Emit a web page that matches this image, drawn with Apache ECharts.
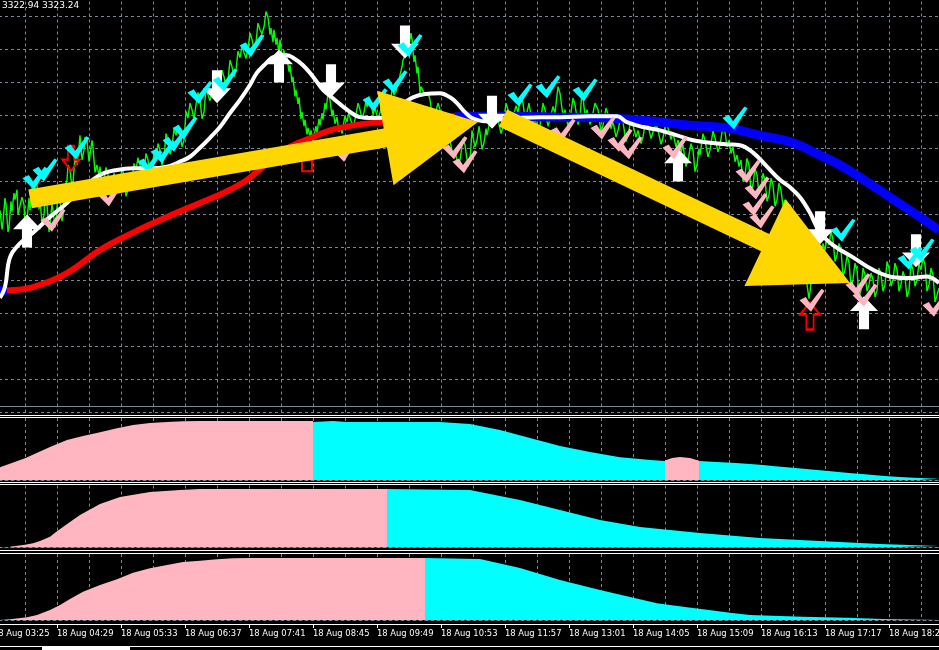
<!DOCTYPE html>
<html><head><meta charset="utf-8">
<script src="https://cdn.jsdelivr.net/npm/echarts@6/dist/echarts.min.js"></script>
<style>html,body{margin:0;padding:0;background:#000;overflow:hidden}#c{width:939px;height:650px}</style>
</head><body><div id="c"></div>
<script>
// x = minutes after 18 Aug 03:25 (M1 bars), y = price
const headerText = '3322.94 3323.24';
const priceData = [[7,3332.5],[9,3330.2],[10,3331.1],[12,3334.0],[13,3333.2],[15,3329.9],[16,3330.4],[18,3333.6],[19,3332.3],[21,3334.6],[22,3333.8],[24,3335.0],[25,3332.0],[27,3331.9],[29,3334.1],[31,3333.2],[32,3330.8],[34,3331.3],[36,3334.0],[37,3332.5],[39,3335.3],[41,3334.4],[43,3336.2],[44,3335.6],[46,3332.6],[47,3333.8],[49,3331.0],[51,3331.9],[52,3334.0],[54,3333.2],[56,3329.9],[57,3330.7],[59,3333.4],[60,3332.5],[62,3330.4],[63,3331.3],[65,3334.6],[67,3333.8],[69,3331.2],[70,3331.9],[72,3335.4],[74,3336.2],[75,3338.0],[77,3337.4],[79,3335.1],[80,3335.9],[82,3338.9],[84,3338.0],[86,3340.2],[87,3341.6],[89,3338.6],[91,3339.8],[92,3341.4],[94,3341.0],[96,3338.4],[97,3339.2],[99,3341.0],[100,3340.1],[102,3337.1],[104,3338.0],[106,3336.6],[107,3337.8],[109,3335.4],[111,3336.2],[113,3337.7],[115,3336.8],[117,3334.3],[119,3335.0],[121,3337.0],[123,3336.2],[125,3334.8],[127,3335.6],[129,3337.6],[131,3336.8],[133,3334.2],[135,3335.0],[137,3337.0],[139,3336.2],[141,3338.2],[143,3337.4],[145,3338.9],[147,3338.0],[149,3336.4],[151,3337.2],[153,3339.4],[155,3338.6],[157,3336.8],[159,3337.6],[161,3339.4],[163,3338.6],[165,3340.6],[167,3339.8],[169,3338.0],[171,3338.8],[173,3341.8],[175,3341.0],[177,3339.3],[179,3340.1],[181,3342.4],[183,3341.6],[185,3342.8],[187,3341.9],[189,3340.2],[191,3341.0],[193,3344.5],[195,3343.7],[197,3345.5],[199,3344.7],[201,3343.5],[203,3345.3],[205,3346.8],[207,3345.9],[209,3343.6],[211,3344.4],[213,3347.3],[215,3346.5],[217,3345.8],[219,3346.7],[221,3348.6],[223,3347.7],[225,3346.3],[227,3347.1],[229,3349.5],[231,3348.7],[233,3347.5],[235,3348.3],[237,3350.7],[239,3349.9],[241,3348.7],[243,3349.5],[245,3351.8],[247,3351.0],[249,3352.4],[251,3351.6],[253,3350.9],[255,3352.2],[257,3354.0],[259,3353.2],[261,3352.1],[263,3352.9],[265,3355.2],[267,3354.4],[269,3353.9],[271,3354.7],[273,3356.6],[275,3355.9],[277,3353.8],[278,3354.6],[280,3352.9],[281,3354.4],[283,3352.6],[284,3353.4],[286,3351.5],[287,3353.2],[289,3351.1],[291,3351.9],[293,3350.3],[294,3351.1],[296,3349.3],[297,3350.1],[299,3348.0],[300,3348.7],[302,3346.3],[303,3347.1],[305,3345.4],[306,3346.2],[308,3343.6],[309,3344.4],[311,3342.7],[312,3343.5],[314,3341.7],[315,3342.5],[317,3341.4],[318,3342.2],[320,3340.8],[321,3341.6],[323,3342.7],[324,3341.9],[326,3343.6],[327,3342.8],[329,3344.3],[330,3343.5],[332,3345.5],[333,3344.7],[335,3346.7],[337,3345.9],[339,3343.9],[340,3344.7],[342,3343.0],[344,3343.8],[346,3342.0],[347,3342.8],[349,3341.8],[350,3342.6],[352,3344.0],[354,3343.2],[356,3344.5],[357,3343.7],[360,3342.7],[362,3343.5],[365,3345.5],[367,3344.7],[369,3343.6],[371,3344.4],[373,3345.8],[374,3345.0],[376,3346.3],[378,3345.5],[380,3344.1],[382,3344.9],[385,3343.5],[387,3344.3],[390,3346.1],[392,3345.3],[395,3343.9],[397,3344.7],[399,3347.3],[401,3346.5],[403,3346.9],[404,3347.7],[406,3348.1],[407,3348.9],[409,3349.9],[410,3350.7],[412,3350.8],[413,3351.6],[415,3351.7],[416,3352.5],[418,3354.0],[419,3353.2],[421,3350.5],[422,3351.3],[424,3349.1],[425,3349.9],[427,3346.7],[428,3347.5],[430,3347.3],[432,3346.5],[435,3346.7],[437,3345.9],[440,3343.3],[442,3344.1],[445,3345.5],[447,3344.7],[450,3341.8],[452,3342.6],[455,3341.8],[457,3341.0],[460,3339.0],[462,3339.8],[465,3337.8],[467,3338.6],[470,3341.2],[472,3340.4],[475,3337.8],[477,3338.6],[479,3342.2],[480,3341.4],[482,3340.2],[484,3341.0],[486,3342.7],[487,3341.9],[489,3339.9],[491,3340.7],[493,3342.4],[494,3341.6],[497,3343.4],[500,3342.6],[503,3344.3],[505,3343.5],[508,3341.8],[510,3342.6],[513,3345.5],[515,3344.7],[518,3342.9],[520,3343.7],[523,3345.2],[525,3344.4],[528,3346.3],[530,3345.5],[532,3343.6],[534,3344.4],[536,3345.5],[537,3344.7],[540,3342.9],[542,3343.7],[545,3342.0],[547,3342.8],[550,3345.5],[552,3344.7],[555,3342.7],[557,3343.5],[560,3345.1],[562,3344.3],[565,3347.5],[567,3346.7],[570,3343.9],[572,3344.7],[575,3342.7],[577,3343.5],[580,3346.1],[582,3345.3],[585,3342.9],[587,3343.7],[589,3347.0],[590,3346.2],[592,3343.9],[594,3344.7],[597,3342.9],[599,3343.7],[602,3345.5],[605,3344.7],[608,3342.0],[610,3342.8],[613,3344.9],[615,3344.1],[618,3342.4],[620,3343.2],[623,3341.4],[625,3342.2],[628,3344.0],[630,3343.2],[633,3340.8],[635,3341.6],[638,3343.6],[640,3342.8],[643,3341.4],[645,3342.2],[648,3340.6],[650,3341.4],[653,3343.6],[655,3342.8],[658,3341.2],[660,3342.0],[663,3343.0],[665,3342.2],[668,3340.5],[670,3341.3],[673,3343.3],[675,3342.5],[678,3341.1],[680,3341.9],[683,3340.2],[685,3341.0],[688,3339.6],[690,3340.4],[693,3337.8],[695,3338.6],[698,3340.6],[700,3339.8],[702,3337.2],[704,3338.0],[706,3340.0],[707,3339.2],[710,3341.8],[712,3341.0],[715,3339.0],[717,3339.8],[720,3342.1],[722,3341.3],[725,3339.6],[727,3340.4],[730,3342.8],[732,3342.0],[734,3340.2],[736,3341.0],[738,3339.4],[740,3340.2],[742,3338.4],[744,3339.2],[746,3337.8],[748,3338.6],[750,3336.0],[752,3336.8],[754,3338.8],[756,3338.0],[758,3334.8],[760,3335.6],[762,3337.6],[764,3336.8],[766,3334.5],[768,3335.3],[770,3337.0],[772,3336.2],[774,3333.6],[776,3334.4],[778,3336.4],[780,3335.6],[782,3333.0],[784,3333.8],[786,3335.8],[788,3335.0],[790,3333.0],[792,3333.8],[795,3332.4],[797,3333.2],[800,3331.1],[802,3331.9],[805,3329.7],[807,3328.9],[809,3326.7],[811,3325.9],[813,3324.3],[814,3323.5],[816,3321.8],[817,3322.6],[819,3324.9],[820,3324.1],[822,3326.1],[824,3325.3],[826,3327.9],[828,3327.1],[830,3328.5],[832,3327.7],[834,3329.1],[836,3328.3],[838,3330.0],[840,3328.9],[842,3326.3],[844,3327.1],[846,3328.5],[848,3327.7],[850,3324.5],[852,3325.3],[854,3327.0],[856,3326.2],[858,3323.3],[860,3324.1],[862,3326.1],[864,3325.3],[866,3322.0],[868,3322.8],[870,3325.5],[872,3324.7],[874,3322.7],[876,3323.5],[878,3324.9],[880,3324.1],[882,3322.0],[884,3322.8],[886,3325.5],[888,3324.7],[890,3322.7],[892,3323.5],[894,3326.3],[896,3325.5],[898,3323.3],[900,3324.1],[902,3326.1],[904,3325.3],[906,3322.7],[908,3323.5],[910,3325.1],[912,3324.3],[914,3322.0],[916,3322.8],[918,3326.1],[920,3325.3],[922,3323.3],[924,3324.1],[926,3326.1],[928,3325.3],[930,3326.7],[932,3325.9],[934,3322.7],[936,3323.5],[938,3325.5],[940,3324.7],[942,3321.4],[944,3322.2],[946,3323.1]];
const fastMa = [[7,3321.9],[12,3323.2],[17,3326.8],[27,3328.5],[40,3329.8],[57,3331.7],[74,3333.4],[90,3335.2],[107,3336.8],[124,3337.4],[140,3337.6],[157,3337.6],[174,3337.8],[187,3338.4],[197,3339.0],[207,3340.1],[217,3341.3],[227,3342.6],[237,3344.3],[247,3345.9],[257,3347.7],[264,3349.2],[272,3350.2],[279,3351.0],[287,3351.3],[294,3351.3],[300,3351.0],[310,3350.1],[320,3348.7],[330,3347.1],[340,3346.1],[354,3344.7],[367,3343.8],[377,3343.7],[387,3343.7],[402,3344.7],[412,3345.6],[420,3346.2],[432,3346.6],[447,3346.7],[457,3346.2],[464,3345.5],[472,3344.4],[479,3343.7],[492,3343.3],[507,3343.5],[527,3343.7],[547,3343.8],[567,3343.8],[597,3343.9],[624,3343.9],[634,3343.2],[650,3342.6],[667,3342.2],[684,3341.6],[700,3341.0],[717,3340.7],[734,3340.5],[747,3340.4],[760,3339.5],[774,3337.8],[787,3336.2],[797,3335.3],[807,3334.1],[817,3332.2],[827,3329.8],[840,3328.3],[860,3326.8],[880,3325.3],[900,3324.4],[917,3324.3],[934,3324.5],[946,3323.7]];
const slowMa = [[7,3322.8],[14,3322.8],[40,3323.2],[74,3324.9],[107,3327.7],[140,3329.8],[174,3331.7],[207,3333.4],[232,3334.7],[254,3336.2],[274,3338.2],[297,3340.2],[320,3341.4],[337,3342.2],[360,3342.8],[387,3343.2],[427,3343.6],[462,3343.9],[507,3343.9],[567,3343.8],[617,3343.7],[667,3343.2],[700,3342.8],[734,3342.5],[767,3341.6],[800,3340.7],[827,3339.2],[847,3338.0],[867,3336.5],[897,3334.1],[927,3331.7],[946,3330.1]];
const slowMaRising = [14, 462];          // slow MA is red between these times, blue elsewhere
const levelLine = 3308.8;
const cyanTicks = [[42,3336.4],[52,3337.4],[84,3340.1],[157,3338.4],[170,3339.6],[182,3341.0],[192,3342.5],[207,3346.8],[232,3348.3],[259,3352.5],[382,3345.9],[402,3348.1],[417,3352.5],[527,3346.5],[555,3347.5],[592,3347.1],[742,3343.7],[850,3330.1],[917,3326.7],[929,3327.7]];
const pinkTicks = [[60,3331.3],[117,3334.4],[352,3339.8],[462,3340.1],[472,3338.4],[570,3342.2],[610,3342.5],[627,3341.0],[637,3340.1],[682,3340.1],[755,3337.2],[764,3335.2],[762,3333.2],[769,3331.7],[819,3321.6],[865,3323.5],[872,3322.2],[942,3321.0]];
const buySignals = [[34,3330.0],[286,3350.0],[685,3338.0],[871,3320.1]];
const sellSignals = [[224,3347.5],[338,3348.2],[412,3352.9],[499,3344.4],[827,3330.4],[923,3327.6]];
const redDown = [[78,3338.8]];
const redUp = [[817,3319.7]];
const redBox = [[314,3337.9]];
const trendArrows = [[37,3333.9,485,3343.2],[510,3343.7,857,3323.7]];
// indicator panels (0..100)
const ind1Pink = [[7,20.5],[32,35.0],[57,53.2],[74,64.5],[90,71.0],[107,76.9],[124,83.4],[140,88.7],[157,91.9],[174,93.5],[190,94.7],[207,95.2],[320,95.2],[320,null],[672,31.5],[679,35.5],[687,37.1],[697,35.5],[706,31.1]];
const ind1Cyan = [[320,93.5],[340,95.2],[354,93.5],[447,93.5],[477,90.3],[507,80.6],[537,67.7],[567,54.8],[597,45.2],[627,36.6],[647,33.9],[657,32.3],[672,30.6],[672,null],[706,30.6],[724,29.0],[743,27.4],[757,25.8],[770,24.2],[782,22.1],[794,20.5],[805,18.9],[816,17.3],[827,15.6],[838,14.0],[848,12.4],[859,10.8],[869,9.7],[880,8.1],[892,6.5],[907,4.8],[926,3.2],[946,2.1]];
const ind2Pink = [[17,1.3],[32,4.5],[40,6.8],[47,10.5],[57,17.4],[62,23.9],[72,35.5],[87,52.4],[107,70.2],[127,81.5],[157,89.5],[187,92.7],[207,94.4],[394,94.4]];
const ind2Cyan = [[7,0.8],[17,0.8],[17,null],[394,94.4],[477,92.7],[527,76.6],[567,60.5],[607,44.4],[647,33.1],[707,23.4],[767,15.3],[827,10.5],[887,5.6],[946,2.4]];
const ind3Pink = [[7,0],[17,1.1],[34,4.1],[44,7.6],[57,15.2],[67,22.7],[77,31.8],[90,42.9],[107,53.0],[124,61.7],[140,71.7],[157,78.3],[174,83.3],[190,87.9],[207,89.8],[224,92.0],[240,93.5],[257,93.9],[432,93.9]];
const ind3Cyan = [[432,93.9],[487,92.4],[527,78.8],[567,60.6],[607,45.5],[650,30.3],[664,25.3],[677,22.7],[694,19.2],[710,16.2],[737,11.1],[757,7.6],[810,5.0],[854,3.5],[890,1.5],[934,0.3],[946,0.3]];

const START_MIN = 3*60+25;
function fmtTime(v){const t=START_MIN+v;const h=Math.floor(t/60),m=t%60;return '18 Aug '+String(h).padStart(2,'0')+':'+String(m).padStart(2,'0');}

const GRID='#778899', DASH=[3,3];
const CHECK='path://M0,50 L25,36 L42,64 L88,0 L100,8 L46,100 Z';
const UPARROW='path://M50,0 L100,45 L68,45 L68,100 L32,100 L32,45 L0,45 Z';
const DNARROW='path://M32,0 L68,0 L68,55 L100,55 L50,100 L0,55 L32,55 Z';

const slowRed = slowMa.filter(d=>d[0]>=slowMaRising[0]&&d[0]<=slowMaRising[1]);
const slowBlue = [];
slowMa.forEach(d=>{ if(d[0]<=slowMaRising[0]) slowBlue.push(d); });
slowBlue.push([slowMaRising[0],null]);
slowMa.forEach(d=>{ if(d[0]>=slowMaRising[1]) slowBlue.push(d); });

function xAx(gi, extra){return Object.assign({type:'value',gridIndex:gi,min:0,max:946,interval:32,
  axisLine:{show:false},axisTick:{show:false},axisLabel:{show:false},
  splitLine:{show:true,lineStyle:{color:GRID,type:DASH,width:1}}},extra||{});}
const panelAxisLine={show:true,lineStyle:{color:GRID,type:DASH,width:1}};
function gridAt(top,height){return {left:-7,right:0,top:top,height:height,containLabel:false,outerBoundsMode:'none'};}

const chart = echarts.init(document.getElementById('c'), null, {renderer:'canvas'});
chart.setOption({
  backgroundColor:'#000000',
  animation:false,
  title:{text:headerText,left:2,top:1,padding:0,textStyle:{color:'#ffffff',fontSize:9,fontWeight:'normal',fontFamily:'DejaVu Sans'}},
  grid:[gridAt(-16.5,429),gridAt(418,62),gridAt(485.5,62),gridAt(554,66)],
  xAxis:[
    xAx(0), xAx(1,{axisLine:panelAxisLine}), xAx(2,{axisLine:panelAxisLine}), xAx(3,{axisLine:panelAxisLine}),
    {type:'value',gridIndex:3,min:0,max:946,interval:64,position:'bottom',offset:4,
     axisLine:{show:true,lineStyle:{color:'#ffffff',width:1}},
     axisTick:{show:true,length:4,lineStyle:{color:'#ffffff'}},
     splitLine:{show:false},
     axisLabel:{show:true,color:'#ffffff',fontSize:8.4,fontFamily:'DejaVu Sans',align:'left',margin:6,showMinLabel:true,showMaxLabel:false,formatter:fmtTime}}
  ],
  yAxis:[
    {type:'value',gridIndex:0,min:3308,max:3360,interval:4,axisLine:{show:false},axisTick:{show:false},axisLabel:{show:false},
     splitLine:{show:true,lineStyle:{color:GRID,type:DASH,width:1}}},
    {type:'value',gridIndex:1,min:0,max:100,show:false},
    {type:'value',gridIndex:2,min:0,max:100,show:false},
    {type:'value',gridIndex:3,min:0,max:100,show:false}
  ],
  graphic:[
    {type:'rect',shape:{x:0,y:415,width:939,height:1},style:{fill:'#fff'},silent:true},
    {type:'rect',shape:{x:0,y:417,width:939,height:1},style:{fill:'#fff'},silent:true},
    {type:'rect',shape:{x:0,y:482,width:939,height:1},style:{fill:'#fff'},silent:true},
    {type:'rect',shape:{x:0,y:484,width:939,height:1},style:{fill:'#fff'},silent:true},
    {type:'rect',shape:{x:0,y:550,width:939,height:1},style:{fill:'#fff'},silent:true},
    {type:'rect',shape:{x:0,y:553,width:939,height:1},style:{fill:'#fff'},silent:true},
    {type:'rect',shape:{x:0,y:646,width:939,height:1},style:{fill:'#fff'},silent:true},
    {type:'rect',shape:{x:42,y:646,width:88,height:4},style:{fill:'#fff'},silent:true}
  ],
  series:[
    {type:'line',xAxisIndex:0,yAxisIndex:0,data:priceData,symbol:'none',z:2,lineStyle:{color:'#00ff00',width:1.4,opacity:1},
     markLine:{silent:true,symbol:'none',label:{show:false},lineStyle:{color:GRID,type:'solid',width:1,opacity:1},data:[{yAxis:levelLine}]}},
    {type:'line',xAxisIndex:0,yAxisIndex:0,data:slowRed,symbol:'none',smooth:0.4,z:3,lineStyle:{color:'#ff0000',width:6,opacity:1}},
    {type:'line',xAxisIndex:0,yAxisIndex:0,data:slowBlue,symbol:'none',smooth:0.4,z:3,lineStyle:{color:'#0000ff',width:9,opacity:1}},
    {type:'line',xAxisIndex:0,yAxisIndex:0,data:fastMa,symbol:'none',smooth:0.4,z:4,lineStyle:{color:'#ffffff',width:4,opacity:1}},
    {type:'scatter',xAxisIndex:0,yAxisIndex:0,data:redDown,symbol:DNARROW,symbolSize:[17,25],z:5,itemStyle:{color:'rgba(0,0,0,0)',borderColor:'#ff0000',borderWidth:2,opacity:1}},
    {type:'scatter',xAxisIndex:0,yAxisIndex:0,data:redUp,symbol:UPARROW,symbolSize:[20,27],z:5,itemStyle:{color:'rgba(0,0,0,0)',borderColor:'#ff0000',borderWidth:2,opacity:1}},
    {type:'scatter',xAxisIndex:0,yAxisIndex:0,data:redBox,symbol:'rect',symbolSize:[10,11],z:5,itemStyle:{color:'rgba(0,0,0,0)',borderColor:'#ff0000',borderWidth:2,opacity:1}},
    {type:'scatter',xAxisIndex:0,yAxisIndex:0,data:buySignals,symbol:UPARROW,symbolSize:[28,33],z:6,itemStyle:{color:'#ffffff',opacity:1}},
    {type:'scatter',xAxisIndex:0,yAxisIndex:0,data:sellSignals,symbol:DNARROW,symbolSize:[28,33],z:6,itemStyle:{color:'#ffffff',opacity:1}},
    {type:'scatter',xAxisIndex:0,yAxisIndex:0,data:pinkTicks,symbol:CHECK,symbolSize:[25,23],z:7,itemStyle:{color:'#ffb6c1',opacity:1}},
    {type:'scatter',xAxisIndex:0,yAxisIndex:0,data:cyanTicks,symbol:CHECK,symbolSize:[25,23],z:7,itemStyle:{color:'#00ffff',opacity:1}},
    {type:'custom',xAxisIndex:0,yAxisIndex:0,data:trendArrows,z:10,encode:{x:[0,2],y:[1,3]},clip:false,
     renderItem:function(params,api){
       const a=api.coord([api.value(0),api.value(1)]), b=api.coord([api.value(2),api.value(3)]);
       const dx=b[0]-a[0], dy=b[1]-a[1], L=Math.hypot(dx,dy);
       const ux=dx/L, uy=dy/L, nx=-uy, ny=ux;
       const HL=94, HW=48, SW=9.5;
       const bx=b[0]-ux*HL, by=b[1]-uy*HL;
       return {type:'polygon',shape:{points:[[a[0]+nx*SW,a[1]+ny*SW],[bx+nx*SW,by+ny*SW],[bx+nx*HW,by+ny*HW],[b[0],b[1]],[bx-nx*HW,by-ny*HW],[bx-nx*SW,by-ny*SW],[a[0]-nx*SW,a[1]-ny*SW]]},style:{fill:'#ffd700',opacity:1}};
     }},
    {type:'line',xAxisIndex:1,yAxisIndex:1,data:ind1Pink,symbol:'none',lineStyle:{width:0},areaStyle:{color:'#ffb6c1',opacity:1}},
    {type:'line',xAxisIndex:1,yAxisIndex:1,data:ind1Cyan,symbol:'none',lineStyle:{width:0},areaStyle:{color:'#00ffff',opacity:1}},
    {type:'line',xAxisIndex:2,yAxisIndex:2,data:ind2Pink,symbol:'none',lineStyle:{width:0},areaStyle:{color:'#ffb6c1',opacity:1}},
    {type:'line',xAxisIndex:2,yAxisIndex:2,data:ind2Cyan,symbol:'none',lineStyle:{width:0},areaStyle:{color:'#00ffff',opacity:1}},
    {type:'line',xAxisIndex:3,yAxisIndex:3,data:ind3Pink,symbol:'none',lineStyle:{width:0},areaStyle:{color:'#ffb6c1',opacity:1}},
    {type:'line',xAxisIndex:3,yAxisIndex:3,data:ind3Cyan,symbol:'none',lineStyle:{width:0},areaStyle:{color:'#00ffff',opacity:1}}
  ]
});
</script></body></html>
